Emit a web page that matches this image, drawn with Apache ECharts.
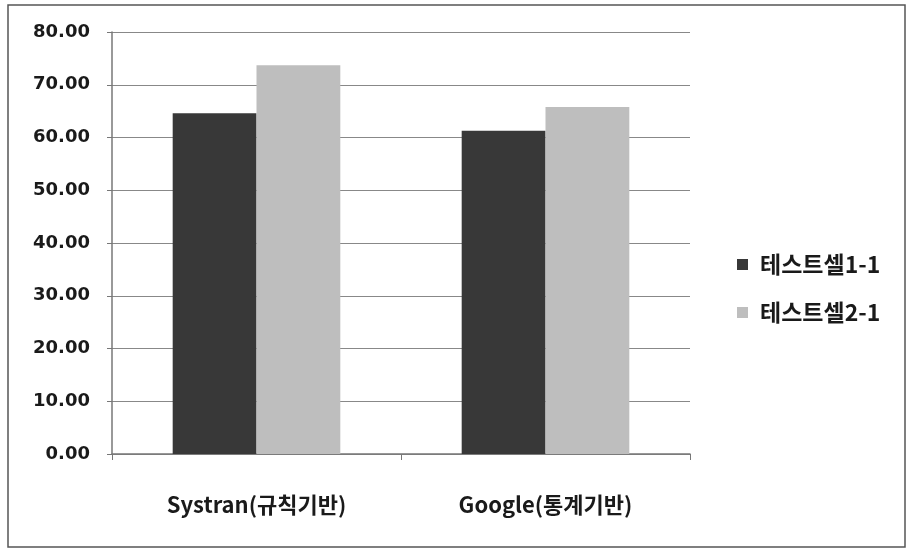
<!DOCTYPE html>
<html><head><meta charset="utf-8">
<script src="https://cdn.jsdelivr.net/npm/echarts@6/dist/echarts.min.js"></script>
<style>html,body{margin:0;padding:0;background:#fff}#c{width:915px;height:559px}</style>
</head><body><div id="c"></div>
<script>
const categories = ['Systran(규칙기반)', 'Google(통계기반)'];
const seriesNames = ['테스트셀1-1', '테스트셀2-1'];
const set1 = [64.6, 61.3];
const set2 = [73.7, 65.8];
const yTicks = [0, 10, 20, 30, 40, 50, 60, 70, 80];

const font = '"Noto Sans CJK KR", "Noto Sans", sans-serif';
const chart = echarts.init(document.getElementById('c'));
chart.setOption({
  backgroundColor: '#fff',
  animation: false,
  graphic: [{
    type: 'rect', shape: { x: 8, y: 5, width: 897, height: 542 },
    style: { fill: 'none', stroke: '#555', lineWidth: 1.5 }
  }],
  legend: {
    orient: 'vertical', left: 732, top: 248, itemGap: 25,
    itemWidth: 11, itemHeight: 11, icon: 'rect',
    data: seriesNames,
    textStyle: { fontFamily: font, fontSize: 23, fontWeight: 'bold', color: '#1a1a1a', padding: [0, 0, 0, 7] }
  },
  grid: { left: 112, right: 225, top: 32, bottom: 105 },
  xAxis: {
    type: 'category', data: categories,
    axisLine: { lineStyle: { color: '#777', width: 1.5 } },
    axisTick: { show: true, length: 6, lineStyle: { color: '#777' } },
    axisLabel: { margin: 40, fontFamily: font, fontSize: 22, fontWeight: 'bold', color: '#1a1a1a' }
  },
  yAxis: {
    type: 'value', min: yTicks[0], max: yTicks[yTicks.length - 1], interval: 10,
    axisLine: { show: true, lineStyle: { color: '#777', width: 1.5 } },
    axisTick: { show: true, length: 5, lineStyle: { color: '#777' } },
    splitLine: { lineStyle: { color: '#888', width: 1.2 } },
    axisLabel: { margin: 22, fontFamily: '"DejaVu Sans", sans-serif', fontSize: 18, fontWeight: 'bold', color: '#1a1a1a',
      formatter: v => v.toFixed(2) }
  },
  series: [
    { name: seriesNames[0], type: 'bar', data: set1, barGap: '0%', barCategoryGap: '42%',
      itemStyle: { color: '#383838' } },
    { name: seriesNames[1], type: 'bar', data: set2,
      itemStyle: { color: '#bebebe' } }
  ]
});
</script></body></html>
